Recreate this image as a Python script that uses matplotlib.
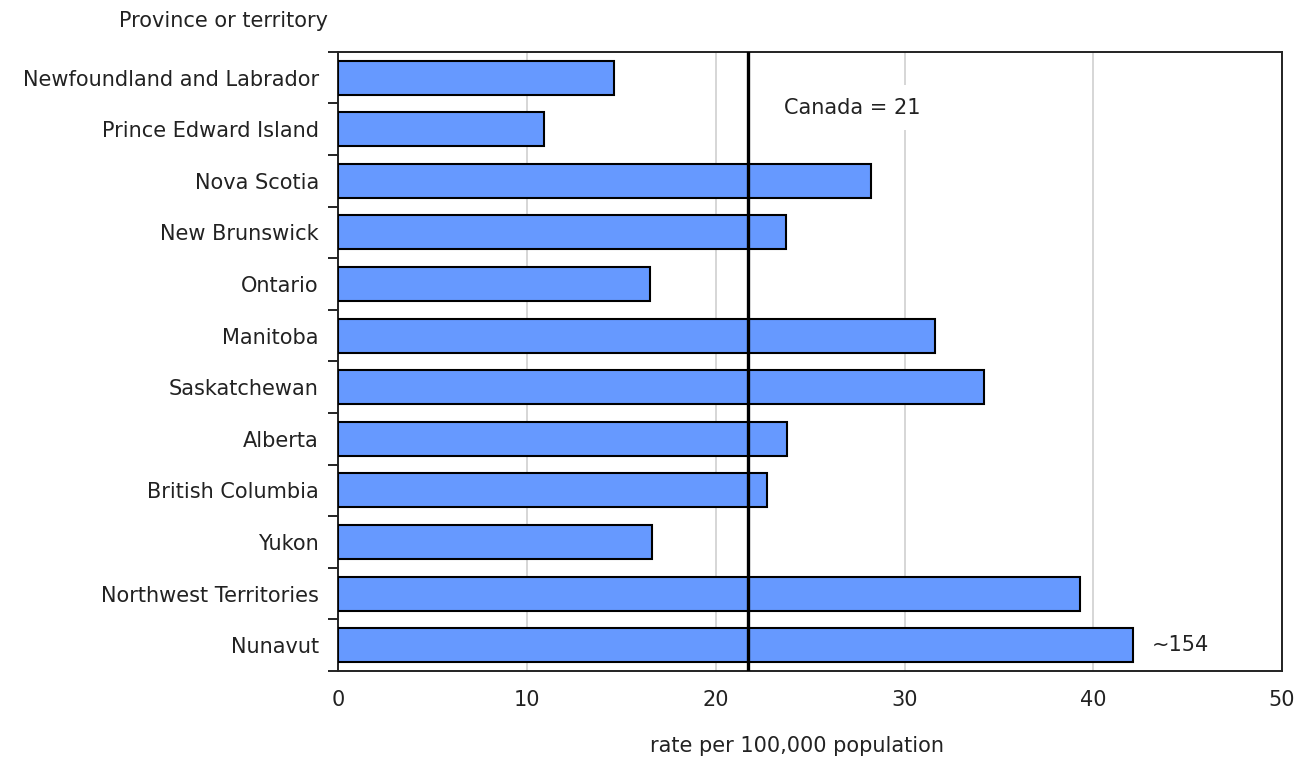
import matplotlib.pyplot as plt
import numpy as np

# rate by province / territory
provinces = ['Newfoundland and Labrador', 'Prince Edward Island', 'Nova Scotia',
             'New Brunswick', 'Ontario', 'Manitoba', 'Saskatchewan', 'Alberta',
             'British Columbia', 'Yukon', 'Northwest Territories', 'Nunavut']
rates = [14.6, 10.9, 28.2, 23.7, 16.5, 31.6, 34.2, 23.8, 22.7, 16.6, 39.3, 42.1]
canada_rate = 21.7
canada_label = 'Canada = 21'
nunavut_label = '~154'
xticks = [0, 10, 20, 30, 40, 50]

fs = 15
txt = '#222222'

fig = plt.figure(figsize=(13.01, 7.57), dpi=100)
ax = fig.add_axes([0.26, 0.1136, 0.7254, 0.818])

y = np.arange(len(provinces))
ax.barh(y, rates, height=0.66, color='#6699ff', edgecolor='black',
        linewidth=1.5, zorder=3)
ax.axvline(canada_rate, color='black', linewidth=2.4, zorder=4)

ax.set_ylim(len(provinces) - 0.5, -0.5)
ax.set_xlim(0, 50)
ax.set_xticks(xticks)
ax.set_yticks(y)
ax.set_yticklabels(provinces, fontsize=fs, color=txt)
ax.set_yticks(np.arange(len(provinces) + 1) - 0.5, minor=True)
ax.tick_params(axis='y', which='major', length=0, pad=14)
ax.tick_params(axis='y', which='minor', length=7, width=1.2)
ax.tick_params(axis='x', length=0, pad=14, labelsize=fs, labelcolor=txt)
ax.xaxis.grid(True, color='#cccccc', linewidth=1.1, zorder=0)
ax.set_axisbelow(True)
for s in ax.spines.values():
    s.set_linewidth(1.4)
    s.set_color(txt)

ax.text(23.6, 0.58, canada_label, fontsize=fs, va='center', ha='left',
        color=txt, zorder=5,
        bbox=dict(facecolor='white', edgecolor='none', pad=9))
ax.text(rates[-1] + 1.0, y[-1], nunavut_label, fontsize=fs, va='center',
        ha='left', color=txt, zorder=5)

ax.set_xlabel('rate per 100,000 population', fontsize=fs, color=txt)
ax.xaxis.set_label_coords(0.486, -0.105)
fig.text(0.252, 0.972, 'Province or territory', fontsize=fs, ha='right',
         va='center', color=txt)

plt.savefig('out.png', dpi=100)
